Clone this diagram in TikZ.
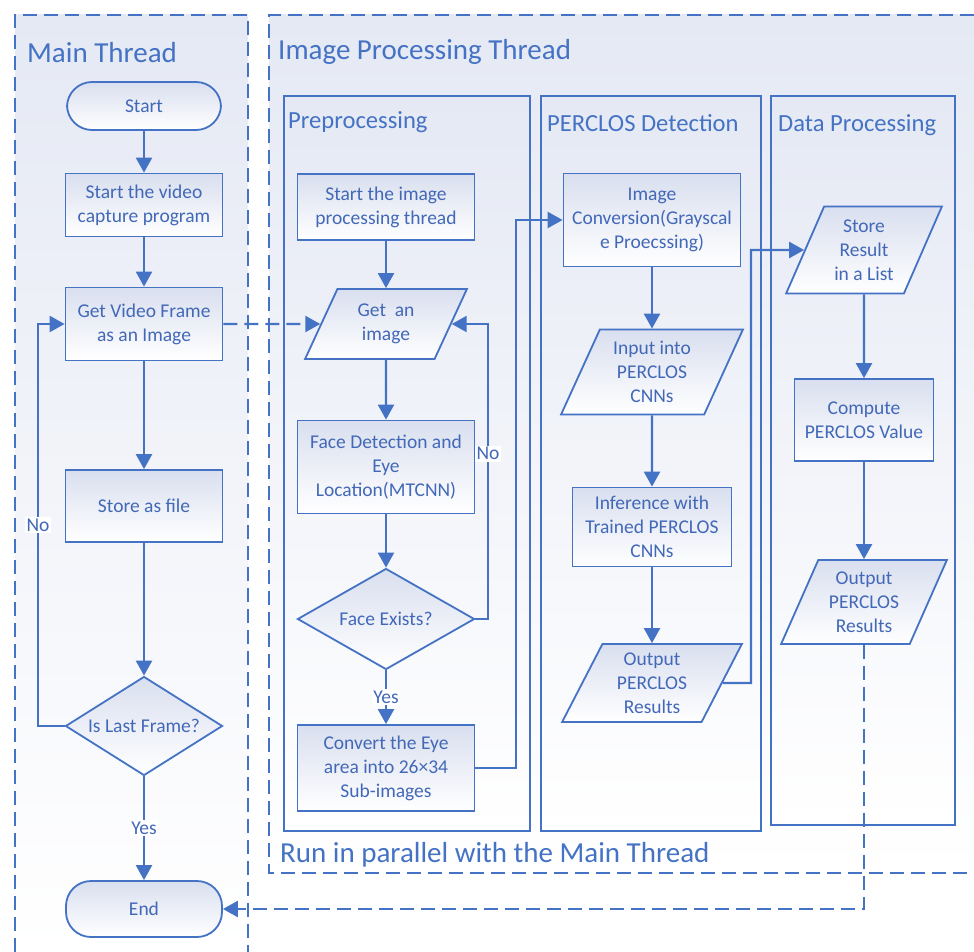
\documentclass[tikz,border=0pt]{standalone}
\usepackage{fontspec}
\setmainfont{Carlito}
\usetikzlibrary{shapes.geometric,arrows.meta}
\definecolor{lineblue}{HTML}{4472C4}
\definecolor{txtblue}{HTML}{4268B8}
\definecolor{bgtop}{HTML}{E5E9F4}
\definecolor{nodetop}{HTML}{D9DFEF}
\pgfdeclarelayer{bg}
\pgfsetlayers{bg,main}

\begin{document}
\begin{tikzpicture}[x=1pt, y=-1pt,
        txt/.style={text=txtblue, font=\fontsize{19.5}{24}\selectfont},
        box/.style={txt, draw=lineblue, line width=1.8pt, top color=nodetop, bottom color=white, align=center, inner sep=1pt},
        proc/.style={box, rectangle},
        term/.style={box, rectangle, rounded corners=25pt},
        io/.style={box, trapezium, trapezium left angle=65, trapezium right angle=115, trapezium stretches=true},
        dec/.style={box, diamond},
        flow/.style={draw=lineblue, line width=2.4pt, -{Triangle[length=15pt,width=16pt]}},
        link/.style={flow, dash pattern=on 14pt off 7pt},
        lbl/.style={txt, fill=white, inner sep=1.5pt},
        lane/.style={draw=lineblue, line width=1.8pt, top color=bgtop, bottom color=white},
        thread/.style={draw=lineblue, line width=1.8pt, dash pattern=on 14pt off 7pt},
        title/.style={anchor=base west, text=lineblue, inner sep=0pt, font=\fontsize{29}{34}\selectfont},
        subtitle/.style={title, font=\fontsize{24.6}{30}\selectfont}]
        \useasboundingbox (0,0) rectangle (974,952);
        % main thread
        \node (m0) [term, minimum width=154pt, minimum height=48pt] at (144,106) {Start};
        \node (m1) [proc, minimum width=157pt, minimum height=63pt] at (144,205) {Start the video\\capture program};
        \node (m2) [proc, minimum width=157pt, minimum height=73pt] at (144,324) {Get Video Frame\\as an Image};
        \node (m3) [proc, minimum width=157pt, minimum height=72pt] at (144,506) {Store as file};
        \node (m4) [dec, minimum width=157pt, minimum height=99pt, label={[txt]center:Is Last Frame?}] at (144,726) {};
        \node (m5) [term, minimum width=156pt, minimum height=56pt] at (144,909) {End};
        % preprocessing
        \node (p0) [proc, minimum width=177pt, minimum height=66pt] at (386,207) {Start the image\\processing thread};
        \node (p1) [io, minimum width=162pt, minimum height=70pt] at (386,324) {Get~ an\\image};
        \node (p2) [proc, minimum width=177pt, minimum height=93pt] at (386,467) {Face Detection and\\Eye\\Location(MTCNN)};
        \node (p3) [dec, minimum width=177pt, minimum height=101pt, label={[txt]center:Face Exists?}] at (386,619) {};
        \node (p4) [proc, minimum width=177pt, minimum height=86pt] at (386,768) {Convert the Eye\\area into 26\texttimes34\\Sub-images};
        % perclos detection
        \node (d0) [proc, minimum width=177pt, minimum height=93pt] at (652,220) {Image\\Conversion(Grayscal\\e Proecssing)};
        \node (d1) [io, minimum width=182pt, minimum height=85pt] at (652,372) {Input into\\PERCLOS\\CNNs};
        \node (d2) [proc, minimum width=159pt, minimum height=79pt] at (652,527) {Inference with\\Trained PERCLOS\\CNNs};
        \node (d3) [io, minimum width=180pt, minimum height=78pt] at (652,683) {Output\\PERCLOS\\Results};
        % data processing
        \node (r0) [io, minimum width=156pt, minimum height=87pt] at (864,250) {Store\\Result\\in a List};
        \node (r1) [proc, minimum width=139pt, minimum height=82pt] at (864,420) {Compute\\PERCLOS Value};
        \node (r2) [io, minimum width=166pt, minimum height=84pt] at (864,602) {Output\\PERCLOS\\Results};

        \coordinate (k0) at (38,726);
        \coordinate (k1) at (488,619);
        \coordinate (k2) at (516,768);
        \coordinate (k3) at (751,683);

        \draw [flow] (m0) -- (m1);
        \draw [flow] (m1) -- (m2);
        \draw [flow] (m2) -- (m3);
        \draw [flow] (m3) -- (m4);
        \draw [flow] (m4) -- (m5) node [lbl, midway] {Yes};
        \draw [flow] (m4) -- (k0) |- (m2) node [lbl, pos=0.25] {No};
        \draw [link] (m2) -- (p1);
        \draw [flow] (p0) -- (p1);
        \draw [flow] (p1) -- (p2);
        \draw [flow] (p2) -- (p3);
        \draw [flow] (p3) -- (p4) node [lbl, midway] {Yes};
        \draw [flow] (p3) -- (k1) |- (p1) node [lbl, pos=0.28] {No};
        \draw [flow] (p4) -- (k2) |- (d0);
        \draw [flow] (d0) -- (d1);
        \draw [flow] (d1) -- (d2);
        \draw [flow] (d2) -- (d3);
        \draw [flow] (d3) -- (k3) |- (r0);
        \draw [flow] (r0) -- (r1);
        \draw [flow] (r1) -- (r2);
        \draw [link] (r2) |- (m5);

        \begin{pgfonlayer}{bg}
                \fill [top color=bgtop, bottom color=white] (15,15) rectangle (248,952);
                \draw [thread] (15,952) -- (15,15) -- (248,15) -- (248,952);
                \fill [top color=bgtop, bottom color=white] (269,15) rectangle (974,873);
                \draw [thread] (974,15) -- (269,15) -- (269,873) -- (974,873);
                \draw [lane] (284,96) rectangle (530,831);
                \draw [lane] (541,96) rectangle (761,831);
                \draw [lane] (771,96) rectangle (955,825);
                \node (t0) [title] at (27,63) {Main Thread};
                \node (t1) [title] at (278,60) {Image Processing Thread};
                \node (t2) [subtitle] at (288,129) {Preprocessing};
                \node (t3) [subtitle] at (547,132) {PERCLOS Detection};
                \node (t4) [subtitle] at (778,132) {Data Processing};
                \node (t5) [title] at (280,862) {Run in parallel with the Main Thread};
        \end{pgfonlayer}
\end{tikzpicture}
\end{document}
